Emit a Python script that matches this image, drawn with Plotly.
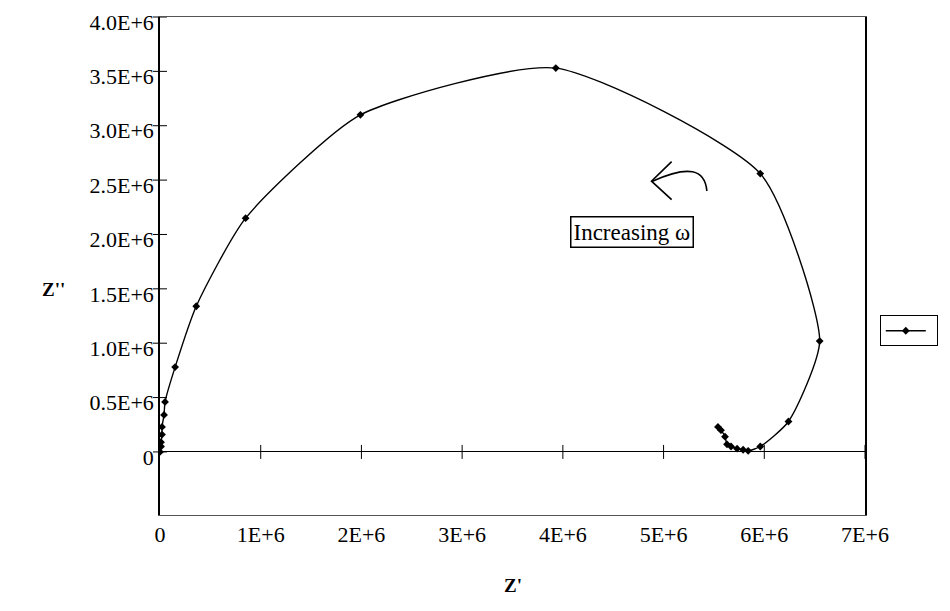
import plotly.graph_objects as go

# Nyquist data (Z' , Z''), ordered from low to high frequency
z_real = [5.54e6, 5.57e6, 5.61e6, 5.63e6, 5.67e6, 5.73e6, 5.79e6, 5.84e6,
          5.96e6, 6.24e6, 6.55e6, 5.96e6, 3.93e6, 1.99e6, 0.85e6, 0.36e6,
          0.15e6, 0.05e6, 0.04e6, 0.02e6, 0.02e6, 0.01e6, 0.01e6, 0.0]
z_imag = [0.23e6, 0.20e6, 0.14e6, 0.07e6, 0.05e6, 0.03e6, 0.02e6, 0.01e6,
          0.05e6, 0.28e6, 1.02e6, 2.56e6, 3.53e6, 3.10e6, 2.15e6, 1.34e6,
          0.78e6, 0.46e6, 0.34e6, 0.23e6, 0.16e6, 0.09e6, 0.05e6, 0.0]

x_ticks = [0, 1e6, 2e6, 3e6, 4e6, 5e6, 6e6, 7e6]
x_labels = ["0", "1E+6", "2E+6", "3E+6", "4E+6", "5E+6", "6E+6", "7E+6"]
y_ticks = [0, 0.5e6, 1.0e6, 1.5e6, 2.0e6, 2.5e6, 3.0e6, 3.5e6, 4.0e6]
y_labels = ["0", "0.5E+6", "1.0E+6", "1.5E+6", "2.0E+6", "2.5E+6",
            "3.0E+6", "3.5E+6", "4.0E+6"]

serif = "Liberation Serif"

fig = go.Figure()

# cross ticks on the zero line and on the y axis
fig.add_trace(go.Scatter(x=x_ticks[1:], y=[0] * (len(x_ticks) - 1), mode="markers",
                         marker=dict(symbol="line-ns", size=10,
                                     line=dict(color="black", width=1)),
                         showlegend=False, hoverinfo="skip", cliponaxis=False))
fig.add_trace(go.Scatter(x=[0] * len(y_ticks), y=y_ticks, mode="markers",
                         marker=dict(symbol="line-ew", size=10,
                                     line=dict(color="black", width=1)),
                         showlegend=False, hoverinfo="skip", cliponaxis=False))

fig.add_trace(go.Scatter(x=z_real, y=z_imag, mode="lines+markers", name=" ",
                         line=dict(color="black", width=1.4, shape="spline", smoothing=0.6),
                         marker=dict(symbol="diamond", size=6, color="black")))

# curved arrow next to the label
fig.add_shape(type="path", xref="x", yref="y",
              path="M 5.43e6,2.40e6 C 5.41e6,2.60e6 5.25e6,2.64e6 4.89e6,2.49e6",
              line=dict(color="black", width=1.6))
fig.add_shape(type="path", xref="x", yref="y",
              path="M 5.08e6,2.67e6 L 4.88e6,2.49e6 L 5.08e6,2.32e6",
              line=dict(color="black", width=1.6))

fig.add_annotation(x=4.69e6, y=2.02e6, text="Increasing ω", showarrow=False,
                   font=dict(family=serif, size=23, color="black"),
                   bordercolor="black", borderwidth=1.5, borderpad=2,
                   bgcolor="white")

fig.add_annotation(x=-0.17, y=0.452, xref="paper", yref="paper", text="<b>Z''</b>",
                   showarrow=False, font=dict(family=serif, size=19, color="black"))
fig.add_annotation(x=0.50, y=-0.167, xref="paper", yref="paper", text="<b>Z'</b>",
                   showarrow=False, font=dict(family=serif, size=19, color="black"))

fig.update_xaxes(range=[0, 7e6], tickvals=x_ticks, ticktext=x_labels,
                 ticks="", showgrid=False, zeroline=False, automargin=False,
                 showline=True, linecolor="#555", linewidth=1, mirror=True,
                 tickfont=dict(family=serif, size=22, color="black"))
fig.update_yaxes(range=[-0.58e6, 4.0e6], tickvals=y_ticks, ticktext=y_labels,
                 ticks="", showgrid=False, zeroline=True, zerolinecolor="black",
                 zerolinewidth=1, showline=True, linecolor="black", linewidth=1.5,
                 mirror=True, ticklabelshift=5, automargin=False,
                 tickfont=dict(family=serif, size=22, color="black"))

fig.update_layout(width=950, height=611, plot_bgcolor="white", paper_bgcolor="white",
                  margin=dict(l=152, r=93, t=9, b=104),
                  legend=dict(x=1.021, y=0.37, xanchor="left", yanchor="middle",
                              bordercolor="black", borderwidth=1, bgcolor="white",
                              font=dict(family=serif, size=4), itemwidth=40,
                              tracegroupgap=0))

fig.write_html("out.html")
